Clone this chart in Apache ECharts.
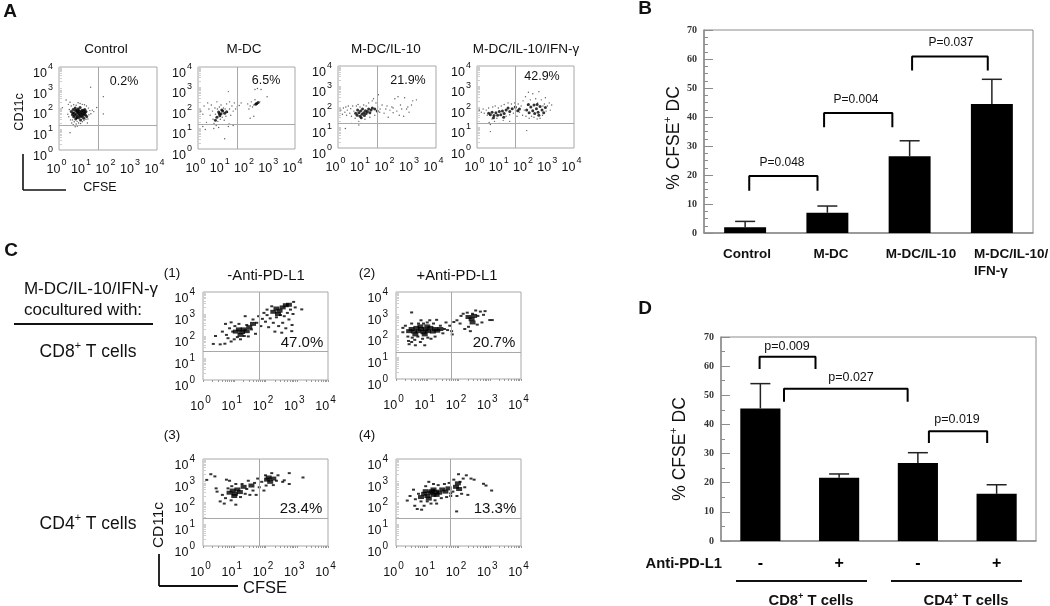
<!doctype html>
<html lang="en">
<head>
<meta charset="utf-8">
<title>CFSE DC panels</title>
<script src="https://cdn.jsdelivr.net/npm/echarts@6/dist/echarts.min.js"></script>
<style>html,body{margin:0;background:#fff}</style>
</head>
<body>
<div id="chart" style="width:1050px;height:606px;"></div>
<script>
// flow plot points are log10 values, dense = the black blobs
var controlDense = [[0.5,1.85],[0.55,1.7],[0.58,1.95],[0.6,1.6],[0.62,1.8],[0.66,2.02],[0.68,1.5],[0.7,1.72],[0.72,1.88],[0.74,1.62],[0.77,1.97],[0.78,1.78],[0.8,1.55],[0.82,1.68],[0.84,1.86],[0.86,2.05],[0.88,1.45],[0.9,1.74],[0.92,1.6],[0.94,1.92],[0.97,1.82],[0.99,1.66],[1.01,1.53],[1.03,1.76],[1.05,1.95],[1.08,1.7],[1.1,1.85],[1.13,1.62],[0.64,1.68],[0.75,1.84],[0.83,1.76],[0.91,1.84],[0.96,1.72],[0.72,1.55],[0.87,1.64],[0.8,1.92],[1.0,1.9],[1.06,1.82],[0.56,1.78],[0.68,1.92]];
var controlSparse = [[1.29,3.03],[1.81,2.57],[1.81,1.74],[0.29,2.41],[0.45,0.83],[0.14,2.04],[1.54,2.05],[0.38,2.2],[0.42,1.95],[0.36,1.72],[0.47,1.45],[0.52,1.3],[0.58,1.22],[0.62,1.36],[0.7,1.25],[0.74,1.38],[0.8,1.3],[0.88,1.28],[0.95,1.36],[1.02,1.42],[1.1,1.48],[1.18,1.5],[1.22,1.7],[1.26,1.9],[1.2,2.02],[1.12,2.12],[1.04,2.18],[0.95,2.2],[0.86,2.24],[0.78,2.28],[0.7,2.16],[0.6,2.18],[0.5,2.12],[0.45,2.3],[0.4,1.6],[0.55,1.45],[1.3,1.75],[1.36,1.92],[1.42,1.85],[1.16,1.3],[0.66,1.12],[0.75,1.15]];
var mdcDense = [[0.85,1.8],[0.95,1.72],[1.02,1.85],[1.1,1.75],[0.9,1.62],[0.78,1.55],[0.98,1.9],[0.72,1.4],[0.88,1.72],[1.18,1.82],[2.42,2.22],[2.48,2.27],[2.38,2.18]];
var mdcSparse = [[0.12,1.85],[0.2,1.7],[0.25,2.1],[0.35,1.3],[0.3,0.95],[0.4,2.25],[0.45,1.95],[0.5,1.65],[0.55,2.15],[0.6,1.85],[0.62,1.45],[0.66,1.25],[0.7,2.0],[0.72,1.7],[0.75,1.15],[0.78,2.3],[0.8,1.95],[0.82,1.35],[0.85,1.05],[0.88,2.05],[0.92,1.45],[0.95,2.15],[1.0,1.55],[1.05,2.0],[1.08,1.4],[1.12,1.95],[1.15,1.6],[1.18,2.2],[1.22,1.8],[1.25,1.1],[1.3,1.95],[1.35,1.65],[1.4,2.1],[1.45,1.85],[1.5,2.25],[1.55,1.95],[1.62,2.05],[1.7,2.12],[1.78,2.25],[1.1,0.5],[0.65,1.0],[1.3,2.3],[1.28,1.22],[1.45,1.15],[2.05,2.2],[2.1,1.95],[2.15,2.1],[2.2,2.3],[2.25,2.05],[2.15,1.5],[2.3,2.15],[2.35,2.4],[2.3,1.6],[2.55,2.3],[2.6,2.9],[2.35,2.9],[2.45,2.95],[2.85,2.55],[1.25,2.8],[0.2,1.1]];
var il10Dense = [[0.72,1.7],[0.78,1.6],[0.8,1.85],[0.85,1.72],[0.9,1.55],[0.92,1.8],[0.98,1.65],[1.0,1.9],[1.05,1.72],[1.08,1.58],[1.12,1.82],[1.15,1.68],[1.2,1.78],[1.25,1.9],[1.3,1.72],[1.35,1.85],[1.4,1.95],[0.95,1.48],[1.5,1.9],[1.6,1.8]];
var il10Sparse = [[0.12,1.85],[0.18,1.65],[0.22,1.95],[0.28,1.75],[0.32,2.0],[0.35,1.6],[0.38,1.85],[0.42,2.05],[0.48,1.7],[0.52,1.92],[0.55,1.55],[0.6,2.05],[0.65,1.8],[0.7,1.45],[0.75,2.05],[0.82,2.12],[0.85,1.3],[0.9,2.0],[0.95,1.2],[1.05,2.1],[1.1,1.4],[1.15,2.05],[1.25,2.2],[1.3,1.5],[1.4,2.3],[1.45,2.4],[1.5,1.6],[1.55,2.2],[1.62,2.0],[1.7,1.75],[1.65,2.6],[1.72,1.9],[1.8,2.1],[1.88,1.7],[1.95,1.9],[2.0,2.05],[2.05,1.5],[2.12,1.85],[2.2,2.0],[2.25,1.72],[2.32,2.4],[2.4,1.8],[2.45,2.5],[2.5,1.6],[2.55,2.1],[2.6,1.9],[2.68,1.55],[2.72,2.45],[2.8,1.9],[2.9,1.75],[3.0,2.1],[3.05,2.3],[3.2,2.35],[0.3,0.95],[0.55,1.2],[0.85,1.12],[2.25,1.95],[2.85,2.0]];
var ifnDense = [[0.55,1.62],[0.62,1.75],[0.7,1.58],[0.78,1.72],[0.85,1.6],[0.92,1.78],[0.98,1.62],[1.05,1.8],[1.12,1.68],[1.2,1.85],[1.28,1.95],[1.35,1.78],[1.45,1.92],[1.1,1.5],[0.48,1.7],[0.68,1.48],[1.58,2.0],[1.68,1.82],[2.05,1.85],[2.15,1.72],[2.22,2.0],[2.3,1.82],[2.38,1.68],[2.45,1.92],[2.52,1.75],[2.6,2.02],[2.68,1.85],[2.75,1.72],[2.35,2.1],[2.55,1.6],[1.75,1.9],[2.48,2.12],[2.82,1.98],[2.12,2.12]];
var ifnSparse = [[0.1,1.85],[0.18,1.75],[0.25,1.9],[0.3,1.7],[0.38,1.85],[0.42,1.6],[0.48,1.95],[0.5,1.25],[0.55,1.15],[0.62,1.42],[0.65,2.0],[0.72,1.3],[0.75,2.05],[0.82,1.45],[0.88,1.95],[0.92,1.2],[1.0,2.05],[1.08,1.35],[1.12,2.12],[1.2,1.55],[1.28,2.2],[1.35,1.62],[1.42,2.15],[1.5,1.7],[1.55,2.2],[1.6,1.95],[1.65,1.55],[1.7,2.15],[1.75,1.75],[1.82,2.05],[1.88,1.6],[1.9,2.3],[1.95,1.85],[2.0,2.5],[2.02,1.55],[2.08,2.1],[2.12,2.72],[2.15,1.45],[2.2,2.35],[2.25,1.55],[2.3,2.65],[2.35,1.5],[2.42,2.4],[2.48,1.42],[2.5,2.2],[2.55,2.75],[2.6,1.45],[2.65,2.35],[2.7,1.6],[2.78,2.15],[2.82,2.45],[2.85,1.8],[2.9,2.05],[2.98,2.2],[3.02,1.85],[3.08,2.1],[2.05,0.85],[1.75,1.2],[0.55,0.8],[2.72,2.05],[1.35,1.3]];

var plot1Dense = [[1.05,2.2],[1.15,2.3],[1.25,2.18],[1.3,2.3],[1.4,2.22],[1.48,2.4],[1.2,2.05],[1.6,2.55],[2.25,3.1],[2.35,3.25],[2.45,3.15],[2.55,3.3],[2.65,3.4],[2.75,3.42],[2.4,3.0]];
var plot1Sparse = [[0.33,1.64],[0.4,2.0],[0.55,1.62],[0.62,2.2],[0.7,1.65],[0.75,2.05],[0.72,2.55],[0.8,1.9],[0.85,2.35],[0.9,1.75],[0.95,2.2],[1.0,1.85],[1.02,2.45],[1.1,1.95],[1.15,2.55],[1.2,1.85],[1.32,2.0],[1.4,2.5],[1.45,1.98],[1.55,2.3],[1.6,2.75],[1.68,2.1],[1.72,2.6],[1.78,2.9],[1.85,2.45],[1.9,2.78],[1.95,3.05],[2.0,2.65],[2.05,2.95],[2.05,3.2],[2.1,2.4],[2.15,2.8],[2.2,3.35],[2.25,2.6],[2.3,2.2],[2.35,2.85],[2.42,2.45],[2.48,2.95],[2.52,2.15],[2.55,2.6],[2.6,2.9],[2.65,2.35],[2.7,3.05],[2.75,2.75],[2.8,3.2],[2.85,2.5],[2.88,3.0],[2.9,3.55],[2.95,3.3],[3.16,3.21],[2.84,2.22],[1.35,2.9],[0.9,2.62]];
var plot2Dense = [[0.42,2.2],[0.5,2.3],[0.58,2.18],[0.65,2.35],[0.72,2.2],[0.8,2.3],[0.88,2.15],[0.95,2.28],[1.02,2.2],[1.1,2.35],[1.18,2.18],[1.25,2.3],[1.32,2.22],[0.92,2.05],[0.78,2.42],[1.0,2.42],[0.62,2.05],[1.42,2.3],[2.32,2.85],[2.42,2.75],[2.5,2.9],[2.45,2.6]];
var plot2Sparse = [[0.22,2.15],[0.22,2.35],[0.3,2.45],[0.38,1.95],[0.4,1.75],[0.42,1.6],[0.5,2.55],[0.52,1.9],[0.5,1.7],[0.5,3.06],[0.6,1.8],[0.62,1.55],[0.7,1.95],[0.72,2.55],[0.78,1.7],[0.8,2.7],[0.85,1.85],[0.88,2.55],[0.92,1.55],[1.0,2.6],[1.02,1.9],[1.08,2.7],[1.12,1.85],[1.2,2.55],[1.25,1.95],[1.3,2.72],[1.42,2.45],[1.5,2.1],[1.55,2.3],[1.6,2.6],[1.65,2.25],[1.72,2.45],[1.78,2.2],[1.8,2.05],[1.85,2.62],[1.95,2.7],[2.05,2.55],[2.08,2.9],[2.15,3.0],[2.2,2.3],[2.28,3.05],[2.32,2.4],[2.38,2.2],[2.45,3.0],[2.55,3.15],[2.6,2.5],[2.62,2.9],[2.7,3.1],[2.8,2.95],[2.85,3.12],[3.0,2.71],[3.08,2.71],[2.75,2.6]];
var plot3Dense = [[0.85,2.45],[0.95,2.55],[1.02,2.4],[1.1,2.6],[1.18,2.48],[1.3,2.72],[1.0,2.3],[1.55,2.78],[2.05,3.05],[2.15,2.95],[2.25,3.1],[2.1,3.15]];
var plot3Sparse = [[0.12,3.04],[0.25,3.3],[0.38,3.2],[0.42,2.65],[0.45,2.5],[0.55,2.05],[0.62,2.35],[0.68,1.95],[0.72,2.2],[0.75,3.05],[0.8,2.65],[0.85,3.0],[0.9,2.1],[0.92,2.75],[1.05,2.85],[1.05,1.9],[1.2,2.25],[1.25,2.85],[1.35,2.4],[1.4,2.62],[1.45,3.0],[1.5,2.35],[1.6,2.55],[1.65,2.9],[1.7,2.35],[1.75,3.1],[1.8,2.7],[1.88,2.95],[1.95,2.55],[2.0,3.25],[2.02,2.78],[2.2,3.35],[2.25,2.8],[2.35,3.0],[2.4,3.25],[2.55,2.95],[2.6,3.02],[2.76,3.35],[2.76,2.85],[3.2,3.15]];
var plot4Dense = [[0.8,2.25],[0.9,2.4],[1.0,2.3],[1.1,2.45],[1.2,2.35],[1.28,2.5],[1.38,2.45],[1.48,2.6],[1.58,2.5],[1.05,2.18],[1.2,2.6],[1.68,2.65],[1.3,2.35],[1.15,2.52],[0.95,2.52],[1.92,2.72],[1.98,2.88],[2.02,2.62]];
var plot4Sparse = [[0.36,2.09],[0.45,2.3],[0.56,2.59],[0.6,1.85],[0.62,2.15],[0.68,1.7],[0.72,2.4],[0.82,1.67],[0.8,2.05],[0.9,1.85],[0.95,2.75],[1.0,2.05],[1.05,2.95],[1.12,1.95],[1.2,2.85],[1.25,2.1],[1.3,1.95],[1.35,2.8],[1.45,2.2],[1.55,2.85],[1.62,2.25],[1.7,2.9],[1.75,2.3],[1.75,2.42],[1.82,2.5],[1.85,3.05],[1.94,1.59],[1.95,2.3],[2.0,3.3],[2.05,2.95],[2.1,2.4],[2.15,3.1],[2.2,2.7],[2.25,3.25],[2.3,2.35],[2.4,3.1],[2.5,3.05],[2.8,2.86],[2.88,2.78],[3.06,2.55]];

var decades = [0, 1, 2, 3, 4];
var quadrantX = [1.62, 1.6, 1.6, 1.58, 1.79, 1.76, 1.79, 1.73];
var quadrantY = [1.17, 1.2, 1.2, 1.2, 1.32, 1.23, 1.27, 1.27];

var barBCategories = ['Control', 'M-DC', 'M-DC/IL-10', 'M-DC/IL-10/IFN-γ'];
var barBValues = [2, 7, 26.5, 44.5];
var barBErrors = [4, 9.3, 31.8, 53];
var barDCategories = ['-', '+', '-', '+'];
var barDValues = [45.5, 21.7, 26.8, 16.2];
var barDErrors = [54, 23, 30.3, 19.3];

// brackets: [left, right, top, foot], left/right in bar slots
var bracketsB = [[0.55, 1.38, 19.65, 14.6], [1.46, 2.29, 41.4, 36.5], [2.53, 3.45, 60.9, 56]];
var bracketsD = [[0.49, 1.2, 63.2, 59], [0.8, 2.37, 52.2, 47.8], [2.64, 3.38, 37.7, 33.6]];

var FONT = '"Liberation Sans", Arial, sans-serif';
var logTicks = [];
decades.slice(0, 4).forEach(function (d) {
    [1, 2, 3, 4, 5, 6, 7, 8, 9].forEach(function (m) { logTicks.push(d + Math.log10(m)); });
});
logTicks.push(4);

var grids = [], xAxes = [], yAxes = [], series = [];

function flowPlot(box, dense, sparse, qx, qy, big) {
    var i = grids.length;
    grids.push({ left: box[0], top: box[1], width: box[2], height: box[3], show: true, borderColor: '#a8a8a8', borderWidth: 1 });
    var labelRich = {
        n: { fontSize: 12.5, fontFamily: FONT, color: '#111', lineHeight: 18, verticalAlign: 'bottom' },
        s: { fontSize: big ? 10 : 9, fontFamily: FONT, color: '#111', lineHeight: 18, verticalAlign: 'top', padding: [0, 0, 0, 1] }
    };
    var fmt = function (v) { return '{n|10}{s|' + v + '}'; };
    xAxes.push({
        type: 'value', gridIndex: i, min: 0, max: 4, interval: 1,
        splitLine: { show: false }, axisLine: { show: false },
        axisTick: big ? { show: true, length: 2, customValues: logTicks, lineStyle: { color: '#999' } } : { show: false },
        axisLabel: { margin: big ? 15 : 8, formatter: fmt, rich: labelRich, padding: [0, 5, 0, 0] }
    });
    yAxes.push({
        type: 'value', gridIndex: i, min: 0, max: 4, interval: 1,
        splitLine: { show: false }, axisLine: { show: false },
        axisTick: { show: true, inside: true, length: 3, customValues: logTicks, lineStyle: { color: '#cfcfcf' } },
        axisLabel: { margin: big ? 8 : 6, formatter: fmt, rich: labelRich, padding: [8, 0, 0, 0] }
    });
    series.push({
        type: 'scatter', xAxisIndex: i, yAxisIndex: i, data: sparse, silent: true,
        symbol: big ? 'rect' : 'circle', symbolSize: big ? [3, 2] : 1.4,
        itemStyle: { color: big ? '#000' : '#333' },
        markLine: {
            silent: true, symbol: 'none', animation: false, label: { show: false },
            lineStyle: { color: '#a8a8a8', width: 1, type: 'solid' },
            data: [{ xAxis: qx }, { yAxis: qy }]
        }
    });
    series.push({
        type: 'scatter', xAxisIndex: i, yAxisIndex: i, data: dense, silent: true,
        symbol: big ? 'rect' : 'circle', symbolSize: big ? [6, 4] : 3,
        itemStyle: { color: '#000' }
    });
}

function barPlot(box, categories, values, errors, brackets, minorSplit, showCats) {
    var i = grids.length;
    grids.push({ left: box[0], top: box[1], width: box[2], height: box[3], show: true, borderColor: '#8c8c8c', borderWidth: 1 });
    xAxes.push({
        type: 'category', gridIndex: i, data: categories,
        axisLine: { lineStyle: { color: '#8c8c8c', width: 1.5 } }, axisTick: { show: false },
        axisLabel: showCats
            ? { show: true, interval: 0, margin: 15, fontFamily: FONT, fontWeight: 'bold', fontSize: 16, color: '#000' }
            : { show: false }
    });
    // hidden slot axis for the brackets
    xAxes.push({ type: 'value', gridIndex: i, min: 0, max: 4, show: false });
    var slotAxis = xAxes.length - 1;
    yAxes.push({
        type: 'value', gridIndex: i, min: 0, max: 70, interval: 10,
        splitLine: { show: false },
        axisLine: { show: true, lineStyle: { color: '#8c8c8c', width: 1.5 } },
        axisTick: { show: true, inside: true, length: 9, lineStyle: { color: '#8c8c8c' } },
        minorTick: { show: true, splitNumber: minorSplit, length: 4, lineStyle: { color: '#8c8c8c' } },
        axisLabel: {
            margin: 7, fontFamily: '"Liberation Serif", serif', fontWeight: 'bold',
            fontSize: 10, color: '#333'
        }
    });
    var yIdx = yAxes.length - 1;
    series.push({
        type: 'bar', xAxisIndex: slotAxis - 1, yAxisIndex: yIdx, data: values, silent: true,
        barWidth: box[2] / 4 * 0.51, itemStyle: { color: '#000' }
    });
    series.push({
        type: 'custom', xAxisIndex: slotAxis - 1, yAxisIndex: yIdx, silent: true,
        data: errors.map(function (e, k) { return [k, values[k], e]; }),
        renderItem: function (params, api) {
            var base = api.coord([api.value(0), api.value(1)]);
            var top = api.coord([api.value(0), api.value(2)]);
            var st = { stroke: '#222', lineWidth: 1.5, fill: null };
            return {
                type: 'group', children: [
                    { type: 'line', shape: { x1: base[0], y1: base[1], x2: top[0], y2: top[1] }, style: st },
                    { type: 'line', shape: { x1: top[0] - 10, y1: top[1], x2: top[0] + 10, y2: top[1] }, style: st }
                ]
            };
        }
    });
    brackets.forEach(function (b) {
        series.push({
            type: 'line', xAxisIndex: slotAxis, yAxisIndex: yIdx, silent: true, symbol: 'none',
            lineStyle: { color: '#000', width: 2 }, z: 5,
            data: [[b[0], b[3]], [b[0], b[2]], [b[1], b[2]], [b[1], b[3]]]
        });
    });
}

flowPlot([59, 67, 98, 83], controlDense, controlSparse, quadrantX[0], quadrantY[0], false);
flowPlot([198, 67, 97, 82], mdcDense, mdcSparse, quadrantX[1], quadrantY[1], false);
flowPlot([338, 66, 98, 82], il10Dense, il10Sparse, quadrantX[2], quadrantY[2], false);
flowPlot([477, 66, 97, 82], ifnDense, ifnSparse, quadrantX[3], quadrantY[3], false);
flowPlot([203, 292, 125, 88], plot1Dense, plot1Sparse, quadrantX[4], quadrantY[4], true);
flowPlot([396, 292, 125, 87], plot2Dense, plot2Sparse, quadrantX[5], quadrantY[5], true);
flowPlot([203, 459, 125, 87], plot3Dense, plot3Sparse, quadrantX[6], quadrantY[6], true);
flowPlot([396, 459, 125, 87], plot4Dense, plot4Sparse, quadrantX[7], quadrantY[7], true);
barPlot([704, 30, 329, 203], barBCategories, barBValues, barBErrors, bracketsB, 4, false);
barPlot([721, 337, 315, 204], barDCategories, barDValues, barDErrors, bracketsD, 2, true);

function txt(x, y, text, size, extra) {
    var style = {
        text: text, fontSize: size, fontFamily: FONT, fill: '#111',
        textAlign: 'center', textVerticalAlign: 'middle'
    };
    var el = { type: 'text', x: x, y: y, silent: true, style: style };
    if (extra) {
        if (extra.bold) style.fontWeight = 'bold';
        if (extra.align) style.textAlign = extra.align;
        if (extra.rotate) el.rotation = extra.rotate;
    }
    // superscript marker in the text, {s|+}
    style.rich = {
        s: { fontSize: size * 0.62, fontFamily: FONT, fontWeight: extra && extra.bold ? 'bold' : 'normal', fill: '#111', verticalAlign: 'top', lineHeight: size * 1.15 },
        t: { fontSize: size, fontFamily: FONT, fontWeight: extra && extra.bold ? 'bold' : 'normal', fill: '#111', verticalAlign: 'bottom', lineHeight: size * 1.15 }
    };
    return el;
}
function line(x1, y1, x2, y2, w) {
    return { type: 'line', silent: true, shape: { x1: x1, y1: y1, x2: x2, y2: y2 }, style: { stroke: '#111', lineWidth: w } };
}

var graphics = [
    txt(10, 12, 'A', 19, { bold: true }), txt(645, 9, 'B', 19, { bold: true }),
    txt(11, 251, 'C', 19, { bold: true }), txt(645, 309, 'D', 19, { bold: true }),
    txt(106, 49, 'Control', 13.5), txt(244, 49, 'M-DC', 13.5),
    txt(386, 49, 'M-DC/IL-10', 13.5), txt(526, 49, 'M-DC/IL-10/IFN-γ', 13.5),
    txt(124, 82, '0.2%', 12.5), txt(266, 81, '6.5%', 12.5), txt(408, 81, '21.9%', 12.5), txt(542, 77, '42.9%', 12.5),
    txt(20, 112, 'CD11c', 12.5, { rotate: Math.PI / 2 }), txt(100, 188, 'CFSE', 12.5),
    line(23, 154, 23, 190, 1.6), line(23, 190, 66, 190, 1.6),

    txt(91, 289, 'M-DC/IL-10/IFN-γ', 17), txt(83, 310, 'cocultured with:', 17),
    line(14, 324, 153, 324, 2),
    txt(88, 351, '{t|CD8}{s|+}{t| T cells}', 17.5), txt(88, 523, '{t|CD4}{s|+}{t| T cells}', 17.5),
    txt(172, 273, '(1)', 13.5), txt(367, 273, '(2)', 13.5), txt(172, 435, '(3)', 13.5), txt(367, 435, '(4)', 13.5),
    txt(266, 276, '-Anti-PD-L1', 14.8), txt(457, 276, '+Anti-PD-L1', 14.8),
    txt(302, 343, '47.0%', 15), txt(494, 343, '20.7%', 15), txt(301, 509, '23.4%', 15), txt(495, 509, '13.3%', 15),
    txt(159, 525, 'CD11c', 15.5, { rotate: Math.PI / 2 }), txt(265, 588, 'CFSE', 16.5),
    line(159, 554, 159, 586, 1.8), line(159, 586, 238, 586, 1.8),

    txt(673, 138, '{t|% CFSE}{s|+}{t| DC}', 17.5, { rotate: Math.PI / 2 }),
    txt(782, 163, 'P=0.048', 12), txt(856, 100, 'P=0.004', 12), txt(951, 43, 'P=0.037', 12),
    txt(747, 254, 'Control', 13.5, { bold: true }), txt(831, 254, 'M-DC', 13.5, { bold: true }),
    txt(921, 254, 'M-DC/IL-10', 13.5, { bold: true }),
    txt(974, 254, 'M-DC/IL-10/', 13.5, { bold: true, align: 'left' }), txt(974, 271, 'IFN-γ', 13.5, { bold: true, align: 'left' }),

    txt(679, 449, '{t|% CFSE}{s|+}{t| DC}', 17.5, { rotate: Math.PI / 2 }),
    txt(787, 347, 'p=0.009', 12.5), txt(851, 378, 'p=0.027', 12.5), txt(957, 420, 'p=0.019', 12.5),
    txt(722, 564, 'Anti-PD-L1', 14.8, { bold: true, align: 'right' }),
    line(736, 581, 867, 581, 2), line(891, 581, 1022, 581, 2),
    txt(811, 600, '{t|CD8}{s|+}{t| T cells}', 14.8, { bold: true }), txt(966, 600, '{t|CD4}{s|+}{t| T cells}', 14.8, { bold: true })
];

var myChart = echarts.init(document.getElementById('chart'), null, { renderer: 'canvas' });
myChart.setOption({
    animation: false,
    backgroundColor: '#fff',
    grid: grids,
    xAxis: xAxes,
    yAxis: yAxes,
    series: series,
    graphic: { elements: graphics }
});
</script>
</body>
</html>
